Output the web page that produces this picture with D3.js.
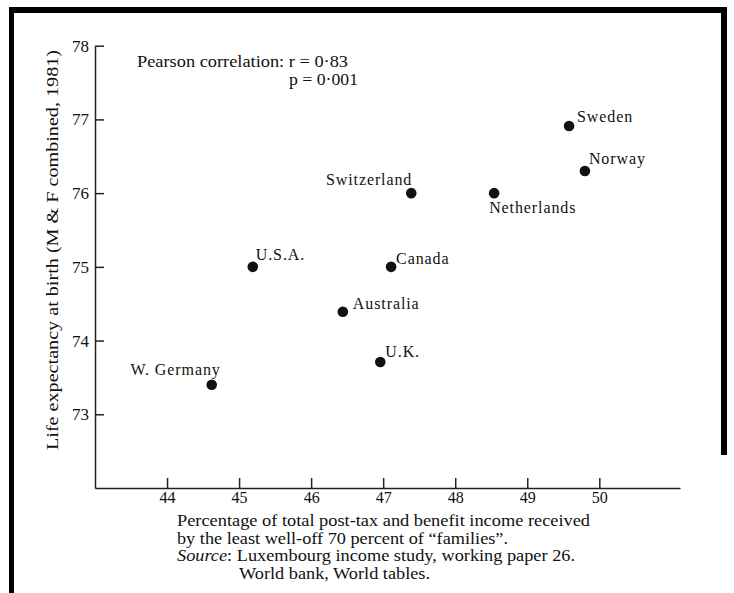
<!doctype html>
<html lang="en">
<head>
  <meta charset="utf-8">
  <title>Income distribution and life expectancy</title>
  <style>
    body { margin: 0; background: #fff; }
    text { font-family: "Liberation Serif", "DejaVu Serif", serif; fill: #111; }
  </style>
</head>
<body>
  <svg id="chart" width="734" height="593"></svg>

<script src="https://cdnjs.cloudflare.com/ajax/libs/d3/7.8.5/d3.min.js"></script>
<script>
  //
  // Data
  //

  var countries = ['W. Germany', 'U.S.A.', 'Australia', 'U.K.', 'Canada', 'Switzerland', 'Netherlands', 'Sweden', 'Norway']
  // % of post-tax and benefit income going to the least well-off 70%
  var incomeShare = [44.62, 45.19, 46.44, 46.96, 47.11, 47.39, 48.54, 49.58, 49.80]
  // life expectancy at birth, M & F combined, 1981
  var lifeExpectancy = [73.40, 75.00, 74.39, 73.71, 75.00, 76.00, 76.00, 76.91, 76.30]

  var xTicks = [44, 45, 46, 47, 48, 49, 50]
  var yTicks = [73, 74, 75, 76, 77, 78]

  //
  // Layout
  //

  var width = 734
  var height = 593
  // (don't call these top/left: window.top is read-only)
  var plotLeft = 95, plotRight = 680, plotTop = 45.7, plotBottom = 488
  var ink = '#111'

  // where each name sits relative to its dot (dx, dy to baseline, anchor)
  var labelPos = {
    'W. Germany': [9, -10, 'end'],
    'U.S.A.': [3, -7, 'start'],
    'Australia': [10, -3, 'start'],
    'U.K.': [5, -5, 'start'],
    'Canada': [5, -3, 'start'],
    'Switzerland': [1, -8, 'end'],
    'Netherlands': [-5, 20, 'start'],
    'Sweden': [8, -4, 'start'],
    'Norway': [4, -7, 'start']
  }

  var svg = d3.select('#chart')

  var x = d3.scaleLinear().domain([43, 51.12]).range([plotLeft, plotRight])
  var y = d3.scaleLinear().domain([72, 78]).range([plotBottom, plotTop])

  //
  // Frame of the scanned page
  //

  svg.append('rect').attr('x', 9).attr('y', 7).attr('width', 718).attr('height', 6).attr('fill', '#000')
  svg.append('rect').attr('x', 9).attr('y', 7).attr('width', 5).attr('height', height - 7).attr('fill', '#000')
  svg.append('rect').attr('x', 721).attr('y', 7).attr('width', 6).attr('height', 448).attr('fill', '#000')

  //
  // Axes
  //

  var xAxis = svg.append('g')
    .attr('transform', 'translate(0,' + plotBottom + ')')
    .call(d3.axisBottom(x).tickValues(xTicks).tickFormat(d3.format('d'))
      .tickSize(-10).tickSizeOuter(0).tickPadding(4))

  var yAxis = svg.append('g')
    .attr('transform', 'translate(' + plotLeft + ',0)')
    .call(d3.axisLeft(y).tickValues(yTicks).tickFormat(d3.format('d'))
      .tickSize(-9).tickSizeOuter(0).tickPadding(6))

  xAxis.selectAll('text').style('font-size', '16px')
  yAxis.selectAll('text').style('font-size', '17px')
  svg.selectAll('.domain, .tick line').attr('stroke', '#222').attr('stroke-width', 1.5)

  //
  // Points and names
  //

  var pts = countries.map(function (c, i) {
    return { name: c, x: incomeShare[i], y: lifeExpectancy[i] }
  })

  svg.append('g').selectAll('circle')
    .data(pts)
    .join('circle')
    .attr('cx', function (d) { return x(d.x) })
    .attr('cy', function (d) { return y(d.y) })
    .attr('r', 5.3)
    .attr('fill', ink)

  svg.append('g').selectAll('text')
    .data(pts)
    .join('text')
    .attr('x', function (d) { return x(d.x) + labelPos[d.name][0] })
    .attr('y', function (d) { return y(d.y) + labelPos[d.name][1] })
    .attr('text-anchor', function (d) { return labelPos[d.name][2] })
    .style('font-size', '16px')
    .style('letter-spacing', '0.9px')
    .text(function (d) { return d.name })

  //
  // Annotation
  //

  svg.append('text').attr('x', 137).attr('y', 67)
    .style('font-size', '16px')
    .attr('textLength', 211).attr('lengthAdjust', 'spacingAndGlyphs')
    .text('Pearson correlation: r = 0·83')
  svg.append('text').attr('x', 289).attr('y', 84.5)
    .style('font-size', '16px')
    .attr('textLength', 69).attr('lengthAdjust', 'spacingAndGlyphs')
    .text('p = 0·001')

  //
  // Axis titles and source note
  //

  svg.append('text')
    .attr('transform', 'translate(58,250) rotate(-90)')
    .attr('text-anchor', 'middle')
    .style('font-size', '16px')
    .attr('textLength', 400).attr('lengthAdjust', 'spacingAndGlyphs')
    .text('Life expectancy at birth (M & F combined, 1981)')

  svg.append('text').attr('x', 177).attr('y', 526)
    .style('font-size', '16px')
    .attr('textLength', 413).attr('lengthAdjust', 'spacingAndGlyphs')
    .text('Percentage of total post-tax and benefit income received')
  svg.append('text').attr('x', 177).attr('y', 543.5)
    .style('font-size', '16px')
    .attr('textLength', 331).attr('lengthAdjust', 'spacingAndGlyphs')
    .text('by the least well-off 70 percent of \u201Cfamilies\u201D.')
  var src = svg.append('text').attr('x', 177).attr('y', 561)
    .style('font-size', '16px')
    .attr('textLength', 398).attr('lengthAdjust', 'spacingAndGlyphs')
  src.append('tspan').style('font-style', 'italic').text('Source')
  src.append('tspan').text(': Luxembourg income study, working paper 26.')
  svg.append('text').attr('x', 239).attr('y', 579)
    .style('font-size', '16px')
    .attr('textLength', 191).attr('lengthAdjust', 'spacingAndGlyphs')
    .text('World bank, World tables.')
</script>
</body>
</html>
